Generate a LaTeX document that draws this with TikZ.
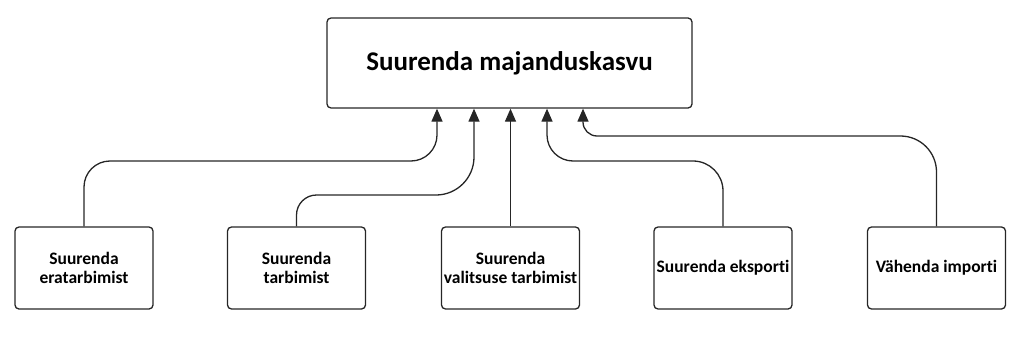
\documentclass[tikz,border=0pt]{standalone}
\usepackage{fontspec}
\setmainfont{Carlito}[Ligatures={NoCommon}]
\usetikzlibrary{arrows.meta}
\begin{document}
\begin{tikzpicture}[x=1pt,y=-1pt,
  topbox/.style={draw=black!85,line width=1.3pt,rounded corners=4pt,minimum width=365pt,minimum height=90pt,font=\bfseries\fontsize{27}{30}\selectfont,inner sep=0pt},
  lowbox/.style={draw=black!85,line width=1.3pt,rounded corners=4pt,minimum width=138pt,minimum height=82pt,align=center,font=\bfseries\fontsize{17.5}{19.5}\selectfont,inner sep=0pt},
  conn/.style={draw=black!85,line width=1.3pt,-{Triangle[length=13pt,width=11pt]}}]
\useasboundingbox (0,0) rectangle (1024,337);
\node[topbox] (top) at (509.5,63) {Suurenda majanduskasvu};
\node[lowbox] (b1) at (84,268) {Suurenda\\eratarbimist};
\node[lowbox] (b2) at (296.5,268) {Suurenda\\tarbimist};
\node[lowbox] (b3) at (510.5,268) {Suurenda\\valitsuse tarbimist};
\node[lowbox] (b4) at (723,268) {Suurenda eksporti};
\node[lowbox] (b5) at (936.5,268) {Vähenda importi};
\coordinate (t1) at ([xshift=-72.5pt]top.south);
\coordinate (t2) at ([xshift=-35.5pt]top.south);
\coordinate (t3) at ([xshift=1pt]top.south);
\coordinate (t4) at ([xshift=37.5pt]top.south);
\coordinate (t5) at ([xshift=73.5pt]top.south);
\draw[conn,rounded corners=26pt] (b1.north) -- (b1.north |- 0,161) -- (t1 |- 0,161) -- (t1);
\draw[conn] (b2.north) [rounded corners=20pt] -- (b2.north |- 0,195) [rounded corners=38pt] -- (t2 |- 0,195) -- (t2);
\draw[conn] (b3.north) -- (t3);
\draw[conn] (b4.north) [rounded corners=30pt] -- (b4.north |- 0,161) [rounded corners=26pt] -- (t4 |- 0,161) -- (t4);
\draw[conn] (b5.north) [rounded corners=36pt] -- (b5.north |- 0,136) [rounded corners=14pt] -- (t5 |- 0,136) -- (t5);
\end{tikzpicture}
\end{document}
